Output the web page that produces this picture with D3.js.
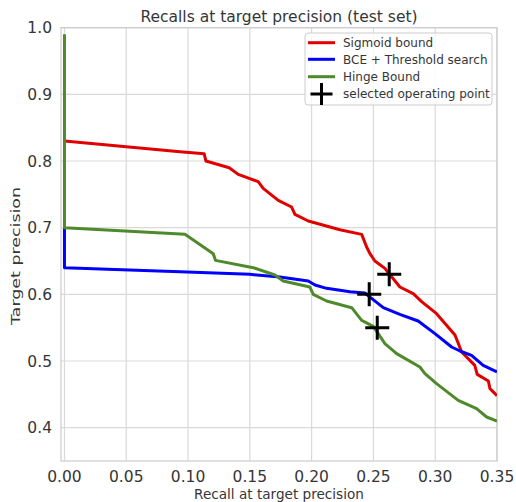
<!DOCTYPE html>
<html>
<head>
<meta charset="utf-8">
<script src="https://cdn.jsdelivr.net/npm/d3@7"></script>
<style>
  body { margin: 0; background: #fff; }
  text { font-family: "DejaVu Sans", sans-serif; fill: #363636; }
</style>
</head>
<body>
<div id="chart"></div>
<script>
// values
const sigmoidRecall = [0, 0.0935, 0.113, 0.1145, 0.1333, 0.1406, 0.1568, 0.1608, 0.173, 0.1838, 0.1865, 0.1973, 0.2229, 0.2405, 0.2445, 0.2472, 0.2512, 0.2593, 0.2714, 0.2822, 0.289, 0.3011, 0.316, 0.3214, 0.332, 0.334, 0.343, 0.3443, 0.35]
const sigmoidPrecision = [0.83, 0.814, 0.811, 0.800, 0.790, 0.780, 0.769, 0.759, 0.741, 0.731, 0.720, 0.710, 0.697, 0.690, 0.671, 0.661, 0.650, 0.639, 0.611, 0.601, 0.589, 0.571, 0.539, 0.5135, 0.4935, 0.480, 0.470, 0.4586, 0.448]

const bceRecall = [0, 0, 0.0935, 0.150, 0.1743, 0.1973, 0.2027, 0.2121, 0.231, 0.2431, 0.2485, 0.258, 0.2714, 0.2862, 0.2998, 0.3133, 0.320, 0.3294, 0.3388, 0.35]
const bcePrecision = [0.70, 0.640, 0.634, 0.630, 0.626, 0.620, 0.614, 0.609, 0.604, 0.602, 0.594, 0.580, 0.570, 0.560, 0.541, 0.521, 0.515, 0.5085, 0.4935, 0.4835]

const hingeRecall = [0, 0, 0.0975, 0.1204, 0.1222, 0.1528, 0.1703, 0.177, 0.1986, 0.2013, 0.2121, 0.2324, 0.2405, 0.2499, 0.2539, 0.2593, 0.2688, 0.2876, 0.2917, 0.3011, 0.3186, 0.3335, 0.3416, 0.35]
const hingePrecision = [0.99, 0.700, 0.690, 0.661, 0.651, 0.640, 0.629, 0.620, 0.611, 0.600, 0.590, 0.580, 0.561, 0.552, 0.541, 0.526, 0.511, 0.491, 0.481, 0.466, 0.441, 0.4285, 0.416, 0.410]

const opRecall = [0.2628, 0.2466, 0.2531]
const opPrecision = [0.630, 0.600, 0.550]

const seriesNames = ["Sigmoid bound", "BCE + Threshold search", "Hinge Bound"]
const seriesColors = ["#e00000", "#0000ff", "#4e8a2c"]
const xTicks = [0, 0.05, 0.10, 0.15, 0.20, 0.25, 0.30, 0.35]
const yTicks = [0.4, 0.5, 0.6, 0.7, 0.8, 0.9, 1.0]

const width = 516, height = 502
const margin = {top: 27.7, right: 19, bottom: 41, left: 61}

const svg = d3.select("#chart").append("svg")
  .attr("width", width)
  .attr("height", height)

const x = d3.scaleLinear()
  .domain([-0.0028, 0.35])
  .range([margin.left, width - margin.right])
const y = d3.scaleLinear()
  .domain([0.35, 1.0])
  .range([height - margin.bottom, margin.top])

// grid
svg.append("g")
  .selectAll("line")
  .data(xTicks)
  .join("line")
    .attr("x1", d => x(d)).attr("x2", d => x(d))
    .attr("y1", y.range()[1]).attr("y2", y.range()[0])
    .attr("stroke", "#d9d9d9").attr("stroke-width", 1.2)
svg.append("g")
  .selectAll("line")
  .data(yTicks)
  .join("line")
    .attr("x1", x.range()[0]).attr("x2", x.range()[1])
    .attr("y1", d => y(d)).attr("y2", d => y(d))
    .attr("stroke", "#d9d9d9").attr("stroke-width", 1.2)

// frame
svg.append("rect")
  .attr("x", x.range()[0]).attr("y", y.range()[1])
  .attr("width", x.range()[1] - x.range()[0])
  .attr("height", y.range()[0] - y.range()[1])
  .attr("fill", "none").attr("stroke", "#cccccc").attr("stroke-width", 1.2)

// tick labels
svg.append("g")
  .selectAll("text")
  .data(xTicks)
  .join("text")
    .attr("x", d => x(d))
    .attr("y", y.range()[0] + 21)
    .attr("text-anchor", "middle")
    .attr("font-size", 15.5)
    .text(d => d3.format(".2f")(d))
svg.append("g")
  .selectAll("text")
  .data(yTicks)
  .join("text")
    .attr("x", x.range()[0] - 9)
    .attr("y", d => y(d))
    .attr("dy", "0.36em")
    .attr("text-anchor", "end")
    .attr("font-size", 15.5)
    .text(d => d3.format(".1f")(d))

// titles
svg.append("text")
  .attr("x", (x.range()[0] + x.range()[1]) / 2)
  .attr("y", 22)
  .attr("text-anchor", "middle")
  .attr("font-size", 15.5)
  .text("Recalls at target precision (test set)")
svg.append("text")
  .attr("x", (x.range()[0] + x.range()[1]) / 2)
  .attr("y", 499)
  .attr("text-anchor", "middle")
  .attr("font-size", 13.6)
  .text("Recall at target precision")
svg.append("text")
  .attr("transform", "translate(19.5,256) rotate(-90)")
  .attr("text-anchor", "middle")
  .attr("font-size", 13)
  .attr("textLength", 138)
  .attr("lengthAdjust", "spacingAndGlyphs")
  .text("Target precision")

// lines
svg.append("clipPath").attr("id", "plot-clip")
  .append("rect")
    .attr("x", x.range()[0]).attr("y", y.range()[1])
    .attr("width", x.range()[1] - x.range()[0])
    .attr("height", y.range()[0] - y.range()[1])

const line = d3.line().x(d => x(d[0])).y(d => y(d[1]))
const series = [
  d3.zip(sigmoidRecall, sigmoidPrecision),
  d3.zip(bceRecall, bcePrecision),
  d3.zip(hingeRecall, hingePrecision),
]
const lines = svg.append("g").attr("clip-path", "url(#plot-clip)")
lines.selectAll("path")
  .data(series)
  .join("path")
    .attr("d", line)
    .attr("fill", "none")
    .attr("stroke", (d, i) => seriesColors[i])
    .attr("stroke-width", 3)
    .attr("stroke-linejoin", "round")

// operating points
const plus = (g, s) => g.attr("d", `M${-s},0H${s}M0,${-s}V${s}`)
  .attr("stroke", "#000").attr("stroke-width", 3).attr("fill", "none")
svg.append("g")
  .selectAll("path")
  .data(d3.zip(opRecall, opPrecision))
  .join("path")
    .attr("transform", d => `translate(${x(d[0])},${y(d[1])})`)
    .call(plus, 12)

// legend
const legend = svg.append("g").attr("transform", "translate(305,33)")
legend.append("rect")
  .attr("width", 187).attr("height", 72).attr("rx", 3)
  .attr("fill", "#fff").attr("fill-opacity", 0.8)
  .attr("stroke", "#cccccc").attr("stroke-width", 1)
const rowY = [9.7, 26.3, 43.7, 61]
seriesNames.forEach((name, i) => {
  legend.append("line")
    .attr("x1", 3).attr("x2", 30)
    .attr("y1", rowY[i]).attr("y2", rowY[i])
    .attr("stroke", seriesColors[i]).attr("stroke-width", 3)
  legend.append("text")
    .attr("x", 38).attr("y", rowY[i]).attr("dy", "0.36em")
    .attr("font-size", 12).text(name)
})
legend.append("path")
  .attr("transform", `translate(16.5,${rowY[3]})`)
  .call(plus, 11)
legend.append("text")
  .attr("x", 38).attr("y", rowY[3]).attr("dy", "0.36em")
  .attr("font-size", 12).text("selected operating point")
</script>
</body>
</html>
